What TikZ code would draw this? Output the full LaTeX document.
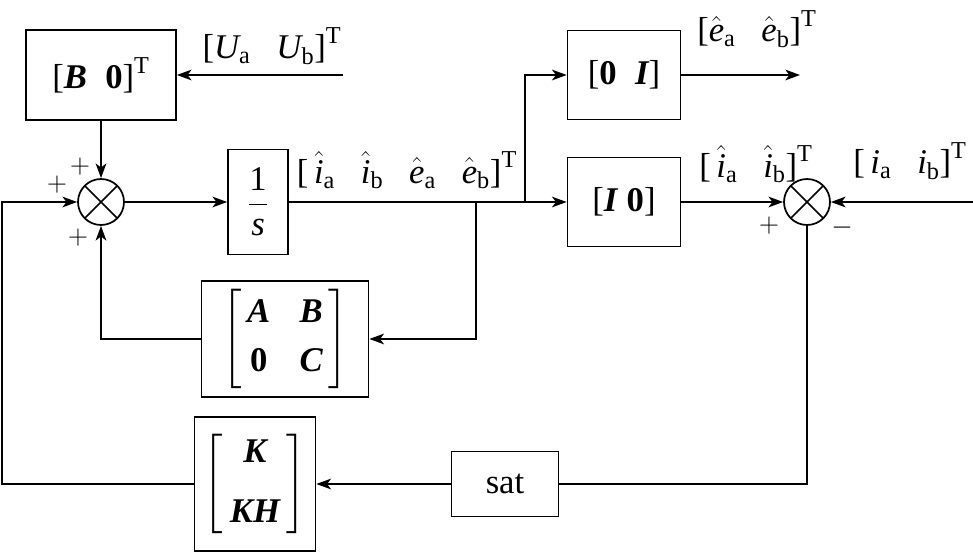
\documentclass[tikz,border=0pt]{standalone}
\usepackage{amsmath}
\usepackage{fontspec}
\setmainfont{Liberation Serif}
\usetikzlibrary{arrows.meta}
\newcommand\bit[1]{\text{\bfseries\itshape #1}}
\newcommand\bup[1]{\text{\bfseries #1}}
\newcommand\tit[1]{\text{\itshape #1}}
\newcommand\sub[1]{_{\text{#1}}}
\newcommand\TT{^{\text{T}}}
\newcommand\lb{\text{[}}
\newcommand\rb{\text{]}}
\newcommand\gap{\mskip 14mu}
\begin{document}
\begin{tikzpicture}[x=0.75pt,y=-0.75pt, line width=1.3pt,
  font=\fontsize{26}{31}\selectfont,
  blk/.style={draw, inner sep=0pt},
  sz/.style 2 args={minimum width=#1*0.75pt, minimum height=#2*0.75pt},
  sumnode/.style={draw, circle, minimum size=34.5pt, inner sep=0pt,
    path picture={\draw (path picture bounding box.south west) -- (path picture bounding box.north east)
      (path picture bounding box.north west) -- (path picture bounding box.south east);}},
  arr/.style={-{Stealth[length=11pt,width=8pt,inset=3pt]}},
  sgn/.style={font=\fontsize{22}{24}\selectfont, inner sep=0pt}]
\useasboundingbox (0,0) rectangle (973,552);
% top-left block
\node[blk, sz={150}{90}] (b0) at (101,75) {$\lb\bit{B}\;\;\bup{0}\rb\TT$};
\coordinate (uin) at (343,75);
\draw[arr] (uin) -- (b0);
\node (ulab) at (272,46) {$\lb\tit{U}\sub{a}\gap\tit{U}\sub{b}\rb\TT$};
% first summing junction
\node[sumnode] (s1) at (101,202) {};
\draw[arr] (b0) -- (s1);
\node[sgn] (p1) at (80,167) {$+$};
\node[sgn] (p2) at (57,185) {$+$};
\node[sgn] (p3) at (78,238) {$+$};
% integrator
\node[blk, sz={60}{105}] (int) at (258,202) {$\dfrac{\text{1}}{\tit{s}}$};
\draw[arr] (s1) -- (int);
\node (xlab) at (407,170) {$\lb\,\hat{\tit{i}}\sub{a}\gap\hat{\tit{i}}\sub{b}\gap\hat{\tit{e}}\sub{a}\gap\hat{\tit{e}}\sub{b}\rb\TT$};
\coordinate (br1) at (476,202);
\coordinate (br2) at (525,202);
% output blocks
\node[blk, sz={113}{89}] (oi) at (624,75) {$\lb\bup{0}\;\;\bit{I}\rb$};
\node[blk, sz={113}{89}] (io) at (624,202) {$\lb\bit{I}\;\bup{0}\rb$};
\draw (int) -- (br2);
\draw[arr] (br2) -- (io);
\draw[arr] (br2) |- (oi);
\coordinate (eout) at (800,75);
\draw[arr] (oi) -- (eout);
\node (elab) at (757,29) {$\lb\hat{\tit{e}}\sub{a}\gap\hat{\tit{e}}\sub{b}\rb\TT$};
% system matrix block
\node[blk, sz={167}{116}] (abc) at (285,339) {$\left[\begin{array}{@{\,}c@{\hspace{22pt}}c@{\,}}\bit{A} & \bit{B}\\[6pt] \bup{0} & \bit{C}\end{array}\right]$};
\draw[arr] (br1) |- (abc);
\draw[arr] (abc) -| (s1);
% second summing junction
\node[sumnode] (s2) at (807,202) {};
\draw[arr] (io) -- (s2);
\node (ihlab) at (756,164) {$\lb\,\hat{\tit{i}}\sub{a}\gap\hat{\tit{i}}\sub{b}\rb\TT$};
\coordinate (iin) at (973,202);
\draw[arr] (iin) -- (s2);
\node (ilab) at (910,161) {$\lb\,\tit{i}\sub{a}\gap\tit{i}\sub{b}\rb\TT$};
\node[sgn] (p4) at (769,226) {$+$};
\node[sgn] (m1) at (842,228) {$-$};
% feedback path
\node[blk, sz={107}{65}] (sat) at (505,484) {sat};
\node[blk, sz={121}{134}] (kh) at (255,484) {$\left[\begin{array}{c}\bit{K}\\[14pt]\bit{KH}\end{array}\right]$};
\draw (s2) |- (sat);
\draw[arr] (sat) -- (kh);
\coordinate (fb) at (2,484);
\draw[arr] (kh) -- (fb) |- (s1);
\end{tikzpicture}
\end{document}
